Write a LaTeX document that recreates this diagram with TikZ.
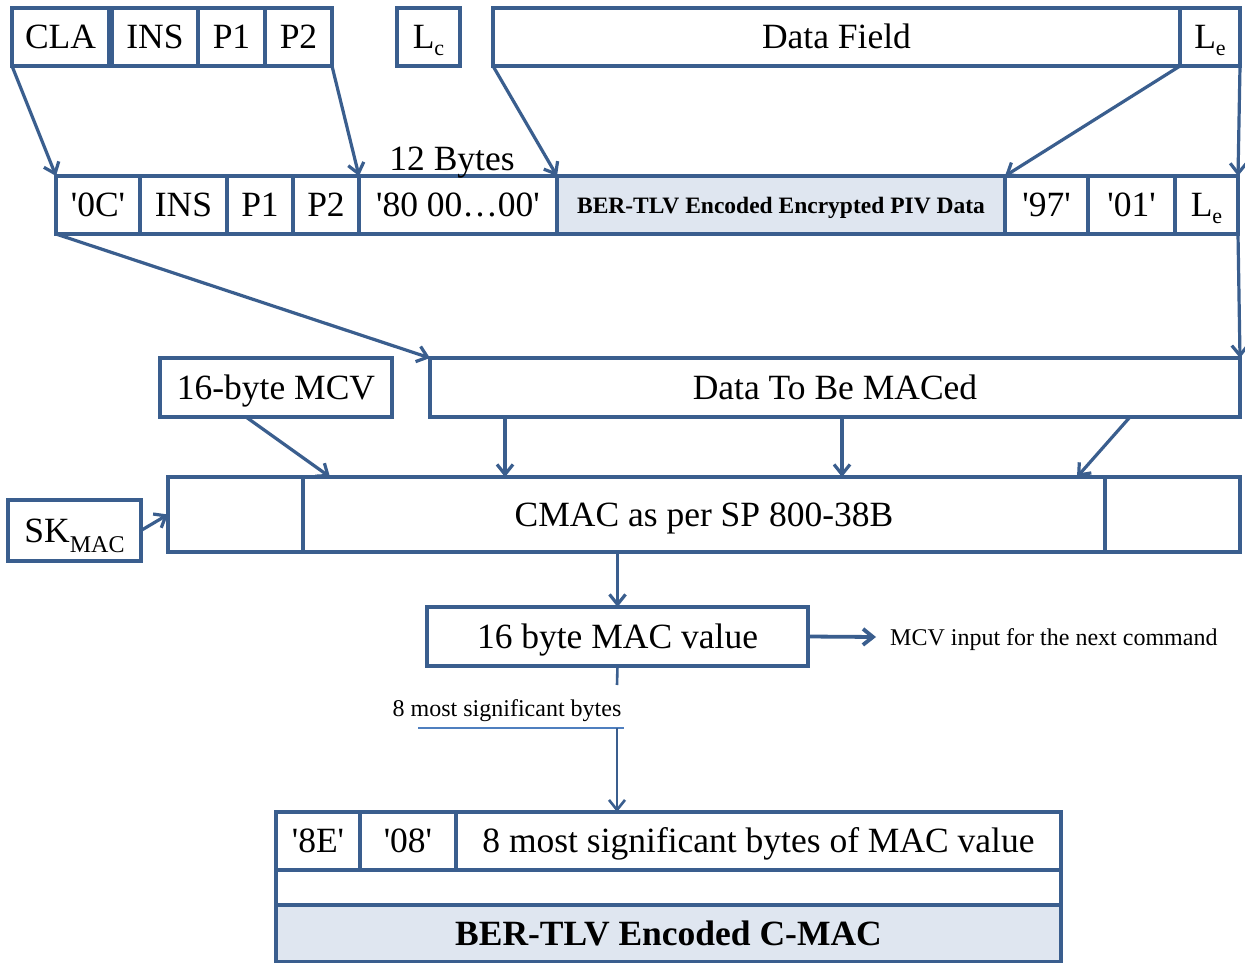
\documentclass[tikz,border=0pt]{standalone}
\usepackage{fontspec}
\setmainfont{Liberation Serif}
\usetikzlibrary{arrows.meta,calc}
\definecolor{bord}{HTML}{3A5E8E}
\definecolor{lfill}{HTML}{DFE6F0}
\definecolor{ulc}{HTML}{4F7FBF}
\newcommand\bigf{\fontsize{35.5}{40}\selectfont}
\newcommand\smallf{\fontsize{24}{28}\selectfont}
\newcommand\Lsub[1]{L\raisebox{-7pt}{\fontsize{22}{22}\selectfont #1}}
\newcommand\q[1]{\textquotesingle#1\textquotesingle}
\newcommand\mkcell[7][]{\node[cellbox,#1,minimum width={(#5-#3)*1pt},minimum height={(#6-#4)*1pt}] (#2) at ({(#3+#5)/2},{(#4+#6)/2}) {#7};}
\tikzset{
  cellbox/.style={draw=bord,line width=3.4pt,inner sep=0pt,outer sep=0pt,font=\bigf,text height=23.5pt,text depth=0pt,fill=white},
  shaded/.style={fill=lfill},
  smalltext/.style={font=\smallf,text height=16pt,text depth=0pt,inner sep=0pt},
  conn/.style={draw=bord,line width=3.2pt},
  arr/.style={conn,-{Straight Barb[length=10pt,width=16pt]}}
}
\begin{document}
\begin{tikzpicture}[x=1pt,y=-1pt]
\useasboundingbox[fill=white] (0,0) rectangle (1245,963);
% row 1
\mkcell{cla}{12}{8}{109}{66}{CLA}
\mkcell{ins}{112}{8}{198}{66}{INS}
\mkcell{pa}{198}{8}{265}{66}{P1}
\mkcell{pb}{265}{8}{332}{66}{P2}
\mkcell{lc}{397}{8}{460}{66}{\Lsub{c}}
\mkcell{df}{493}{8}{1180}{66}{Data Field}
\mkcell{le}{1180}{8}{1240}{66}{\Lsub{e}}
% row 2
\mkcell{zc}{56}{176}{140}{234}{\q{0C}}
\mkcell{insb}{140}{176}{227}{234}{INS}
\mkcell{pab}{227}{176}{293}{234}{P1}
\mkcell{pbb}{293}{176}{359}{234}{P2}
\mkcell{pad}{359}{176}{557}{234}{\q{80 00\ldots00}}
\mkcell[shaded,font=\bfseries\fontsize{23.5}{26}\selectfont,text height=16pt]{ber}{557}{176}{1005}{234}{BER-TLV Encoded Encrypted PIV Data}
\mkcell{nn}{1005}{176}{1088}{234}{\q{97}}
\mkcell{zo}{1088}{176}{1175}{234}{\q{01}}
\mkcell{leb}{1175}{176}{1238}{234}{\Lsub{e}}
\node[font=\bigf,text height=23.5pt,text depth=0pt,inner sep=0pt] (twelve) at (452,159) {12 Bytes};
% row 3
\mkcell{mcv}{160}{358}{392}{417}{16-byte MCV}
\mkcell{dtbm}{430}{358}{1240}{417}{Data To Be MACed}
% cmac
\mkcell{cmac}{168}{477}{1240}{552}{}
\mkcell{cmacm}{303}{477}{1105}{552}{CMAC as per SP 800-38B}
\mkcell{sk}{8}{500}{141}{561}{SK\raisebox{-10pt}{\fontsize{24}{24}\selectfont MAC}}
% MAC value
\mkcell{mac}{427}{607}{808}{666}{16 byte MAC value}
\node[smalltext,anchor=west,inner xsep=14pt] (mcvin) at (876,637) {MCV input for the next command};
\node[smalltext] (msbl) at (507,708) {8 most significant bytes};
\coordinate (gapa) at (617,685);
\coordinate (ulc) at (617,728);
\coordinate (ulL) at (418,728);
\coordinate (ulR) at (624,728);
% bottom
\mkcell{ee}{276}{812}{360}{870}{\q{8E}}
\mkcell{ze}{360}{812}{456}{870}{\q{08}}
\mkcell{msb}{456}{812}{1061}{870}{8 most significant bytes of MAC value}
\mkcell{blank}{276}{870}{1061}{905}{}
\mkcell[shaded,font=\bfseries\bigf]{cmacb}{276}{905}{1061}{962}{BER-TLV Encoded C-MAC}
% connectors
\draw[arr] (cla.south west) -- (zc.north west);
\draw[arr] (pb.south east) -- (pad.north west);
\draw[arr] (df.south west) -- (ber.north west);
\draw[arr] (le.south west) -- (ber.north east);
\draw[arr] (le.south east) -- (leb.north east);
\draw[arr] (zc.south west) -- (dtbm.north west);
\draw[arr] (leb.south east) -- (dtbm.north east);
\draw[arr] ($(mcv.south west)+(86,0)$) -- ($(cmac.north west)+(162,0)$);
\draw[arr] ($(dtbm.south west)+(75,0)$) -- ($(cmac.north west)+(337,0)$);
\draw[arr] ($(dtbm.south west)+(412,0)$) -- ($(cmac.north west)+(674,0)$);
\draw[arr] ($(dtbm.south west)+(700,0)$) -- ($(cmac.north west)+(909,0)$);
\draw[arr] (sk.east) -- (cmac.west);
\draw[arr] (mac.north |- cmac.south) -- (mac.north);
\draw[arr,line width=3.8pt] (mac.east) -- (mcvin.west);
\draw[conn,line width=2.6pt] (mac.south) -- (gapa);
\draw[draw=ulc,line width=1.6pt] (ulL) -- (ulR);
\draw[arr,line width=2.6pt] (ulc) -- (ulc |- msb.north);
\end{tikzpicture}
\end{document}
